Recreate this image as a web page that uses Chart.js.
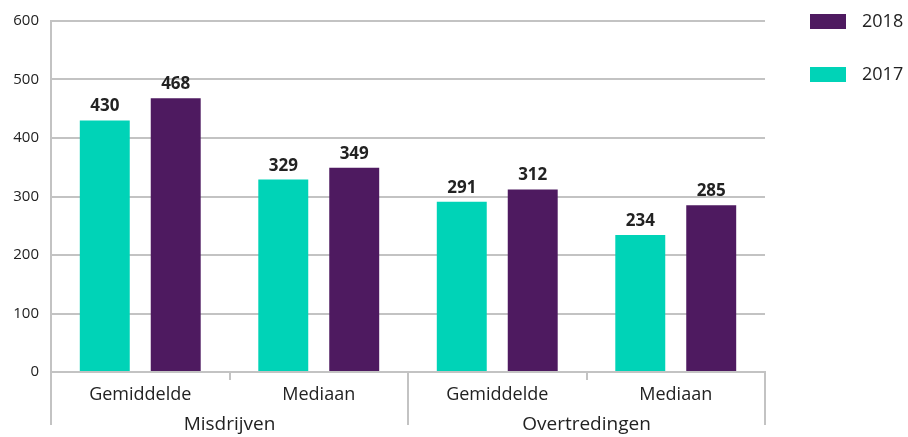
<!DOCTYPE html>
<html>
<head>
<meta charset="utf-8">
<script src="https://cdn.jsdelivr.net/npm/chart.js@4"></script>
<style>
  html, body { margin: 0; padding: 0; background: #fff; }
  #wrap { width: 908px; height: 437px; }
</style>
</head>
<body>
<div id="wrap"><canvas id="chart"></canvas></div>
<script>
// --- DATA ---
const labels = ['Gemiddelde', 'Mediaan', 'Gemiddelde', 'Mediaan'];
const groups = ['Misdrijven', 'Overtredingen'];
const values2017 = [430, 329, 291, 234];
const values2018 = [468, 349, 312, 285];
const yTicks = [0, 100, 200, 300, 400, 500, 600];

const TEAL = '#00d3b7';
const PURPLE = '#4e1a60';
const GRID = '#c3c3c3';
const FONT = "'Open Sans', 'Noto Sans', sans-serif";

// value labels above the bars
const valueLabels = {
    id: 'valueLabels',
    afterDatasetsDraw(chart) {
        const ctx = chart.ctx;
        ctx.save();
        ctx.font = 'bold 17px ' + FONT;
        ctx.fillStyle = '#222';
        ctx.textAlign = 'center';
        ctx.textBaseline = 'alphabetic';
        chart.data.datasets.forEach((ds, i) => {
            chart.getDatasetMeta(i).data.forEach((bar, j) => {
                ctx.fillText(ds.data[j], bar.x, bar.y - 9);
            });
        });
        ctx.restore();
    }
};

// group labels + long dividers under the axis
const groupAxis = {
    id: 'groupAxis',
    afterDraw(chart) {
        const ctx = chart.ctx;
        const x = chart.scales.x;
        const area = chart.chartArea;
        const per = labels.length / groups.length;
        ctx.save();
        ctx.strokeStyle = GRID;
        ctx.lineWidth = 2;
        for (let g = 0; g <= groups.length; g++) {
            const idx = g * per;
            const px = idx === 0 ? area.left
                : idx === labels.length ? area.right
                : (x.getPixelForValue(idx - 1) + x.getPixelForValue(idx)) / 2;
            ctx.beginPath();
            ctx.moveTo(px, area.bottom);
            ctx.lineTo(px, area.bottom + 53);
            ctx.stroke();
        }
        ctx.font = '19px ' + FONT;
        ctx.fillStyle = '#222';
        ctx.textAlign = 'center';
        ctx.textBaseline = 'alphabetic';
        groups.forEach((name, g) => {
            const a = x.getPixelForValue(g * per);
            const b = x.getPixelForValue(g * per + per - 1);
            ctx.fillText(name, (a + b) / 2, area.bottom + 58);
        });
        ctx.restore();
    }
};

// legend on the right, 2018 on top
const sideLegend = {
    id: 'sideLegend',
    afterDraw(chart) {
        const ctx = chart.ctx;
        ctx.save();
        ctx.font = '18px ' + FONT;
        ctx.textBaseline = 'middle';
        ctx.textAlign = 'left';
        const items = chart.data.datasets.slice().reverse();
        items.forEach((ds, i) => {
            const y = 14 + i * 53;
            ctx.fillStyle = ds.backgroundColor;
            ctx.fillRect(810, y, 36, 15);
            ctx.fillStyle = '#222';
            ctx.fillText(ds.label, 862, y + 8);
        });
        ctx.restore();
    }
};

new Chart(document.getElementById('chart'), {
    type: 'bar',
    data: {
        labels: labels,
        datasets: [
            { label: '2017', data: values2017, backgroundColor: TEAL },
            { label: '2018', data: values2018, backgroundColor: PURPLE }
        ]
    },
    options: {
        responsive: true,
        maintainAspectRatio: false,
        animation: false,
        categoryPercentage: 0.795,
        barPercentage: 0.704,
        layout: { padding: { top: 20, right: 143, bottom: 0, left: 0 } },
        plugins: {
            legend: { display: false },
            tooltip: { enabled: false }
        },
        scales: {
            x: {
                grid: {
                    offset: true,
                    drawOnChartArea: false,
                    drawTicks: true,
                    tickLength: 8,
                    color: GRID,
                    lineWidth: 2
                },
                border: { color: GRID, width: 2 },
                ticks: {
                    color: '#222',
                    font: { family: FONT, size: 18 },
                    padding: 4
                },
                afterFit: (s) => { s.height = 65; }
            },
            y: {
                min: 0,
                max: 600,
                afterBuildTicks: (s) => { s.ticks = yTicks.map(v => ({ value: v })); },
                grid: { color: GRID, lineWidth: 2, drawTicks: false },
                border: { color: GRID, width: 2 },
                ticks: {
                    color: '#222',
                    font: { family: FONT, size: 15 },
                    padding: 12
                },
                afterFit: (s) => { s.width = 51; }
            }
        }
    },
    plugins: [valueLabels, groupAxis, sideLegend]
});
</script>
</body>
</html>
